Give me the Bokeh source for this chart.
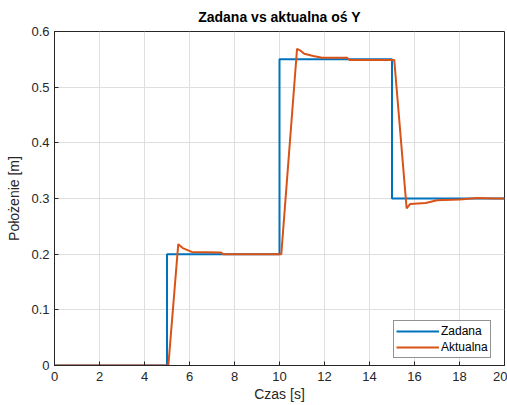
from bokeh.plotting import figure
from bokeh.models import FixedTicker, Legend, LegendItem, Range1d
from bokeh.embed import file_html
from bokeh.resources import INLINE

# Data
t_zadana = [0, 5, 5, 10, 10, 15, 15, 20]
v_zadana = [0, 0, 0.2, 0.2, 0.55, 0.55, 0.3, 0.3]

t_aktualna = [0, 5.06, 5.5, 5.7, 6.1, 7.4, 7.5, 10.08, 10.78, 10.95, 11.1, 11.5,
              11.9, 13.0, 13.1, 15.1, 15.65, 15.8, 16.5, 17.0, 18.0, 18.8, 19.5, 20]
v_aktualna = [0, 0, 0.218, 0.211, 0.204, 0.203, 0.2, 0.2, 0.569, 0.565, 0.56, 0.556,
              0.553, 0.553, 0.549, 0.549, 0.282, 0.29, 0.292, 0.297, 0.298, 0.301, 0.3, 0.3]

x_ticks = [0, 2, 4, 6, 8, 10, 12, 14, 16, 18, 20]
x_labels = ["0", "2", "4", "6", "8", "10", "12", "14", "16", "18", "20"]
y_ticks = [0, 0.1, 0.2, 0.3, 0.4, 0.5, 0.6]
y_labels = ["0", "0.1", "0.2", "0.3", "0.4", "0.5", "0.6"]

FONT = "Liberation Sans"
AX = "#262626"

p = figure(width=507, height=405, output_backend="svg", toolbar_location=None,
           x_range=Range1d(0, 20), y_range=Range1d(0, 0.6),
           min_border_left=54, min_border_right=3, min_border_top=31, min_border_bottom=40,
           title="Zadana vs aktualna oś Y")

p.title.text_font = FONT
p.title.text_font_size = "14px"
p.title.text_font_style = "bold"
p.title.align = "center"
p.title.text_color = "#000000"
p.title.standoff = 13

p.outline_line_color = AX
p.outline_line_width = 1

for ax in (p.xaxis[0], p.yaxis[0]):
    ax.major_label_text_font = FONT
    ax.major_label_text_font_size = "13px"
    ax.major_label_text_color = AX
    ax.axis_label_text_font = FONT
    ax.axis_label_text_font_size = "14px"
    ax.axis_label_text_font_style = "normal"
    ax.axis_label_text_color = AX
    ax.axis_line_color = AX
    ax.major_tick_line_color = AX
    ax.major_tick_in = 4
    ax.major_tick_out = 0
    ax.minor_tick_line_color = None

p.xaxis[0].ticker = FixedTicker(ticks=x_ticks)
p.xaxis[0].major_label_overrides = {t: l for t, l in zip(x_ticks, x_labels)}
p.yaxis[0].ticker = FixedTicker(ticks=y_ticks)
p.yaxis[0].major_label_overrides = {t: l for t, l in zip(y_ticks, y_labels)}
p.xaxis[0].axis_label = "Czas [s]"
p.yaxis[0].axis_label = "Położenie [m]"
p.xaxis[0].major_label_standoff = 6
p.xaxis[0].axis_label_standoff = 2
p.yaxis[0].major_label_standoff = 5
p.yaxis[0].axis_label_standoff = 6

p.xgrid.ticker = FixedTicker(ticks=x_ticks)
p.ygrid.ticker = FixedTicker(ticks=y_ticks)
p.grid.grid_line_color = "#dfdfdf"
p.grid.grid_line_width = 1

r1 = p.line(t_zadana, v_zadana, line_color="#0072BD", line_width=2)
r2 = p.line(t_aktualna, v_aktualna, line_color="#D95319", line_width=2)

legend = Legend(items=[LegendItem(label="Zadana", renderers=[r1]),
                       LegendItem(label="Aktualna", renderers=[r2])],
                location=(339, 7))
legend.label_text_font = FONT
legend.label_text_font_size = "12px"
legend.label_text_color = "#000000"
legend.border_line_color = AX
legend.border_line_width = 1
legend.glyph_width = 43
legend.glyph_height = 16
legend.label_height = 16
legend.spacing = 0
legend.padding = 2
legend.margin = 0
legend.label_standoff = 2
p.add_layout(legend, "center")

open("out.html", "w").write(file_html(p, INLINE))
